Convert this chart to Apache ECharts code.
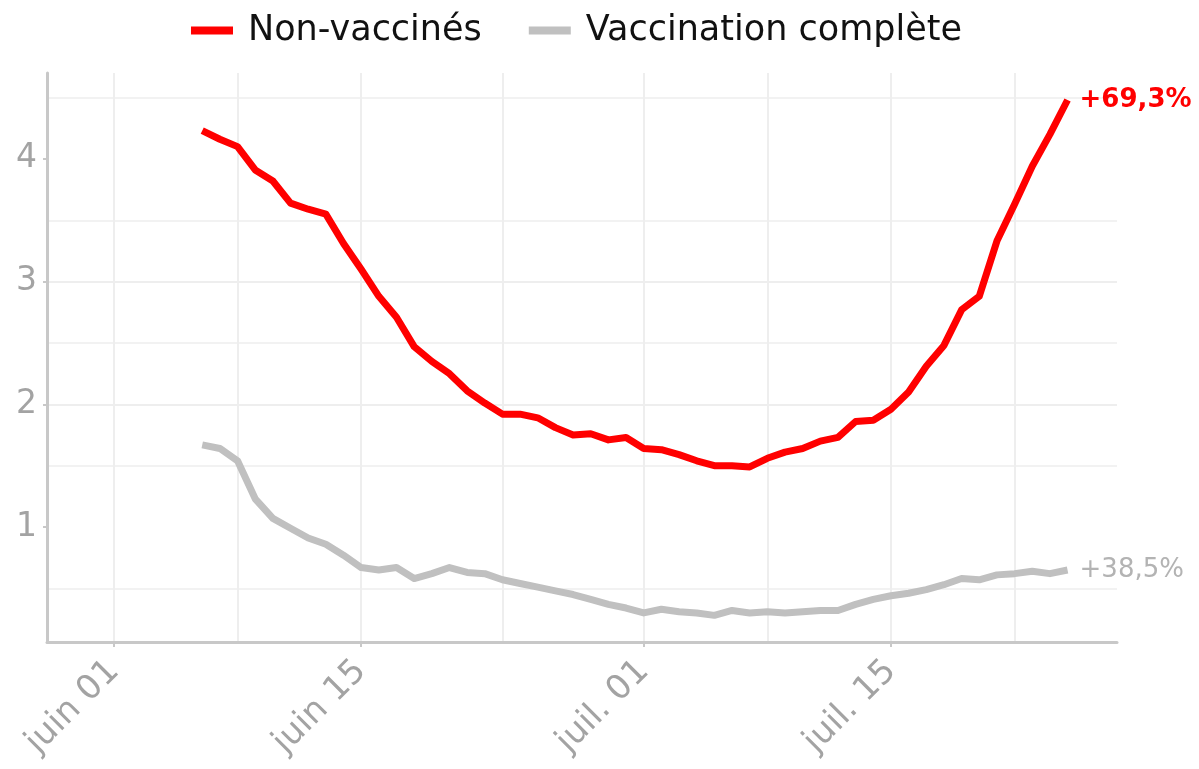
<!DOCTYPE html>
<html>
<head>
<meta charset="utf-8">
<script src="https://cdn.jsdelivr.net/npm/echarts@6.0.0/dist/echarts.min.js"></script>
<style>
  html, body { margin: 0; padding: 0; background: #fff; }
  #chart-container { width: 1199px; height: 769px; }
</style>
</head>
<body>
<div id="chart-container"></div>
<script>
// daily values, 6 June -> 25 July 2021
var days = [
  '2021-06-06', '2021-06-07', '2021-06-08', '2021-06-09', '2021-06-10',
  '2021-06-11', '2021-06-12', '2021-06-13', '2021-06-14', '2021-06-15',
  '2021-06-16', '2021-06-17', '2021-06-18', '2021-06-19', '2021-06-20',
  '2021-06-21', '2021-06-22', '2021-06-23', '2021-06-24', '2021-06-25',
  '2021-06-26', '2021-06-27', '2021-06-28', '2021-06-29', '2021-06-30',
  '2021-07-01', '2021-07-02', '2021-07-03', '2021-07-04', '2021-07-05',
  '2021-07-06', '2021-07-07', '2021-07-08', '2021-07-09', '2021-07-10',
  '2021-07-11', '2021-07-12', '2021-07-13', '2021-07-14', '2021-07-15',
  '2021-07-16', '2021-07-17', '2021-07-18', '2021-07-19', '2021-07-20',
  '2021-07-21', '2021-07-22', '2021-07-23', '2021-07-24', '2021-07-25'
];

var nonVaccines = [
  4.23, 4.16, 4.10, 3.91, 3.82, 3.64, 3.59, 3.55, 3.31, 3.10,
  2.88, 2.71, 2.47, 2.35, 2.25, 2.11, 2.01, 1.92, 1.92, 1.89,
  1.81, 1.75, 1.76, 1.71, 1.73, 1.64, 1.63, 1.59, 1.54, 1.50,
  1.50, 1.49, 1.56, 1.61, 1.64, 1.70, 1.73, 1.86, 1.87, 1.96,
  2.10, 2.31, 2.48, 2.77, 2.88, 3.33, 3.63, 3.94, 4.20, 4.48
];

var vaccines = [
  1.67, 1.64, 1.54, 1.23, 1.07, 0.99, 0.91, 0.86, 0.77, 0.67,
  0.65, 0.67, 0.58, 0.62, 0.67, 0.63, 0.62, 0.57, 0.54, 0.51,
  0.48, 0.45, 0.41, 0.37, 0.34, 0.30, 0.33, 0.31, 0.30, 0.28,
  0.32, 0.30, 0.31, 0.30, 0.31, 0.32, 0.32, 0.37, 0.41, 0.44,
  0.46, 0.49, 0.53, 0.58, 0.57, 0.61, 0.62, 0.64, 0.62, 0.65
];

var seriesNames = ['Non-vaccinés', 'Vaccination complète'];
var endLabels = ['+69,3%', '+38,5%'];

var tickDates = ['2021-06-01', '2021-06-15', '2021-07-01', '2021-07-15'];
var tickLabels = ['juin 01', 'juin 15', 'juil. 01', 'juil. 15'];
var gridDates = ['2021-06-01', '2021-06-08', '2021-06-15', '2021-06-23',
                 '2021-07-01', '2021-07-08', '2021-07-15', '2021-07-22'];
var yTicks = [1, 2, 3, 4];

// x positions are counted in days from 1 June
var origin = Date.UTC(2021, 5, 1);
function toDay(s) {
  var p = s.split('-');
  return Math.round((Date.UTC(+p[0], +p[1] - 1, +p[2]) - origin) / 86400000);
}

var dom = document.getElementById('chart-container');
var myChart = echarts.init(dom, null, { renderer: 'canvas' });

var font = 'DejaVu Sans';
var axisGray = '#c8c8c8';
var labelGray = '#a3a3a3';
var gridGray = '#eeeeee';

var tickDays = tickDates.map(toDay);

var option = {
  animation: false,
  textStyle: { fontFamily: font },
  legend: {
    top: 8,
    left: 186,
    icon: 'rect',
    itemWidth: 42,
    itemHeight: 8,
    itemGap: 47,
    data: seriesNames,
    textStyle: { fontSize: 35, color: '#111111', fontFamily: font, padding: [0, 0, 0, 10] }
  },
  grid: { left: 47, right: 82, top: 73, bottom: 127 },
  xAxis: {
    type: 'value',
    min: -3.79,
    max: 56.8,
    axisLine: { onZero: false, lineStyle: { color: axisGray, width: 3 } },
    axisTick: { show: true, customValues: tickDays, length: 5, lineStyle: { color: axisGray, width: 2 } },
    axisLabel: {
      customValues: tickDays,
      rotate: 45,
      margin: 24,
      color: labelGray,
      fontSize: 34,
      fontFamily: font,
      formatter: function (value) {
        var i = tickDays.indexOf(Math.round(value));
        return i >= 0 ? tickLabels[i] : '';
      }
    },
    splitLine: { show: false }
  },
  yAxis: {
    type: 'value',
    min: 0.063,
    max: 4.7,
    minInterval: 1,
    maxInterval: 1,
    axisLine: { show: true, onZero: false, lineStyle: { color: axisGray, width: 3 } },
    axisTick: { show: true, customValues: yTicks, length: 4, lineStyle: { color: axisGray, width: 2 } },
    axisLabel: { customValues: yTicks, color: labelGray, fontSize: 33, margin: 10, fontFamily: font },
    splitLine: { show: true, showMinLine: false, showMaxLine: false, lineStyle: { color: gridGray, width: 2 } },
    minorTick: { show: false, splitNumber: 2 },
    minorSplitLine: { show: true, lineStyle: { color: '#f2f2f2', width: 2 } }
  },
  series: [
    {
      // vertical gridlines
      type: 'line',
      data: [],
      silent: true,
      z: 0,
      markLine: {
        z: 0,
        silent: true,
        symbol: ['none', 'none'],
        label: { show: false },
        emphasis: { disabled: true },
        lineStyle: { color: gridGray, width: 2, type: 'solid' },
        data: gridDates.map(function (d) { return { xAxis: toDay(d) }; })
      }
    },
    {
      name: seriesNames[1],
      type: 'line',
      showSymbol: false,
      color: '#c0c0c0',
      lineStyle: { width: 7, color: '#c0c0c0', join: 'round' },
      data: days.map(function (d, i) { return [toDay(d), vaccines[i]]; }),
      endLabel: {
        show: true,
        formatter: endLabels[1],
        color: '#b3b3b3',
        fontSize: 26,
        fontFamily: font,
        distance: 12
      }
    },
    {
      name: seriesNames[0],
      type: 'line',
      showSymbol: false,
      color: '#ff0000',
      lineStyle: { width: 7, color: '#ff0000', join: 'round' },
      data: days.map(function (d, i) { return [toDay(d), nonVaccines[i]]; }),
      endLabel: {
        show: true,
        formatter: endLabels[0],
        color: '#ff0000',
        fontWeight: 'bold',
        fontSize: 26,
        fontFamily: font,
        distance: 12
      }
    }
  ]
};

myChart.setOption(option);
window.addEventListener('resize', myChart.resize);
</script>
</body>
</html>
